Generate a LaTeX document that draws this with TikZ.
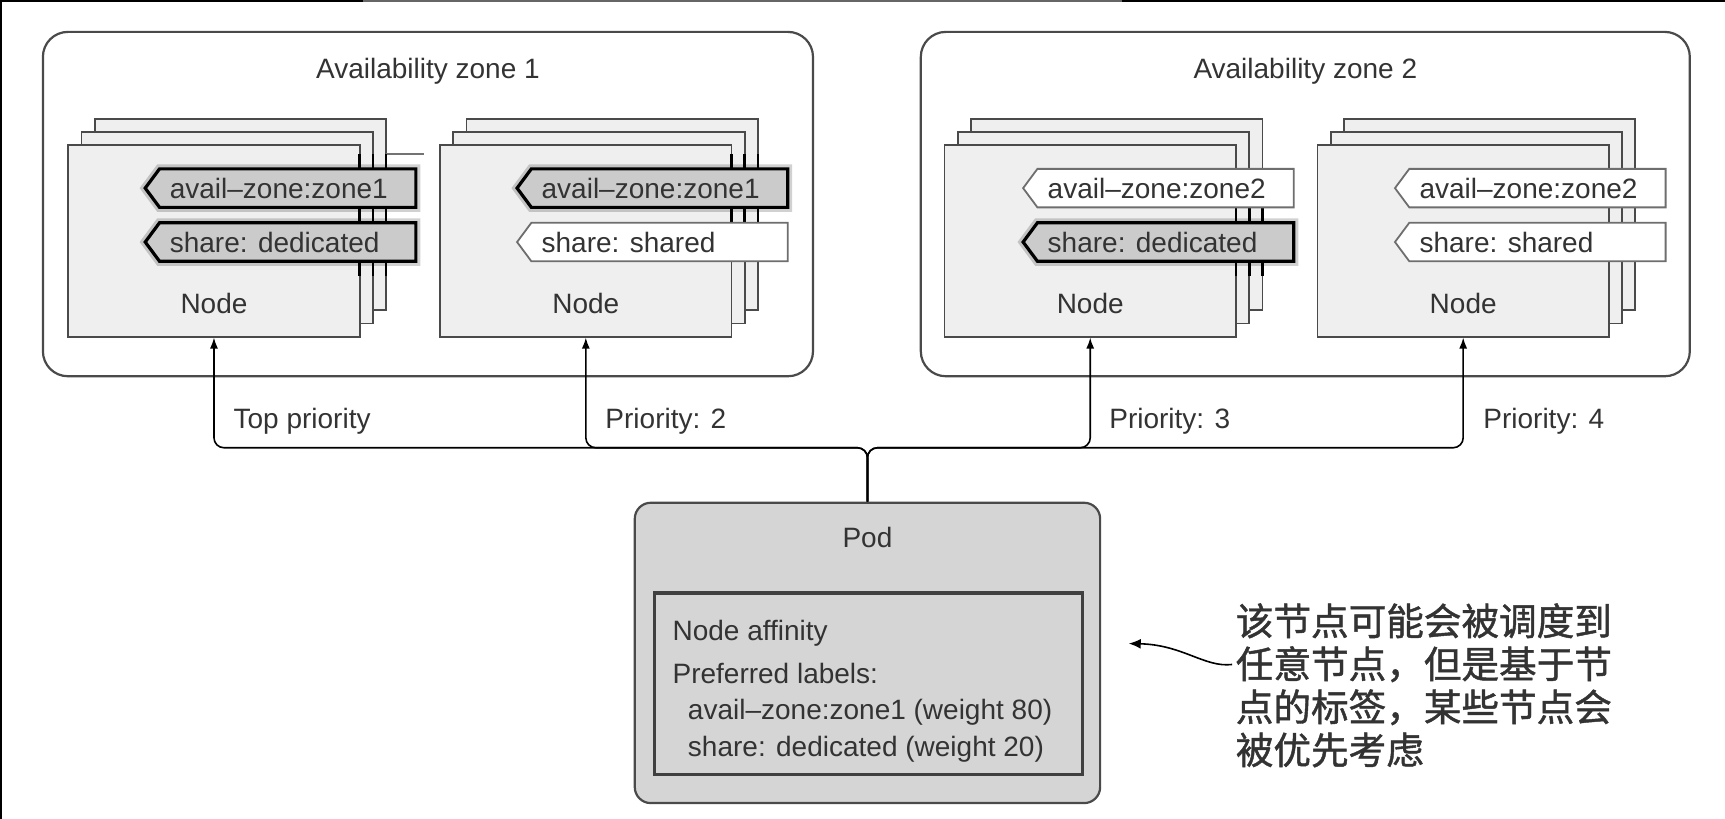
\documentclass[tikz,border=0pt]{standalone}
\usepackage{fontspec}
\setmainfont{Liberation Sans}
\newfontfamily\cjkfont[FakeBold=1.2]{Noto Sans CJK SC}
\usetikzlibrary{arrows.meta,calc}
\definecolor{edgegray}{HTML}{4A4A4A}
\definecolor{nodefill}{HTML}{EFEFEF}
\definecolor{hlfill}{HTML}{CBCBCB}
\definecolor{podfill}{HTML}{D5D5D5}
\definecolor{txtgray}{HTML}{333333}
\definecolor{plaingray}{HTML}{6E6E6E}
% #1 name, #2 cx, #3 cy
\newcommand\nodestack[3]{%
  \node[nodebox] (#1c) at (#2+24,#3-24) {};
  \node[nodebox] (#1b) at (#2+12,#3-12) {};
  \node[nodebox] (#1) at (#2,#3) {};
  \node[lbl] (#1t) at (#2,#3+57) {Node};
}
% #1 name, #2 left x, #3 centre y, #4 style, #5 text
\newcommand\tagbox[5]{%
  \draw[#4] (#2,#3) -- (#2+13,#3-17.5) -- (#2+246,#3-17.5) -- (#2+246,#3+17.5) -- (#2+13,#3+17.5) -- cycle;
  \node[lbl,anchor=west] (#1) at (#2+22,#3) {#5};
}
% #1 front cx, #2 top, #3 bottom
\newcommand\darkedges[3]{%
  \foreach \d in {132.5,144.5,156.5}{\draw[black,line width=1.3pt] (#1+\d,#2) -- (#1+\d,#3);}
}
\begin{document}
\begin{tikzpicture}[x=0.55pt,y=-0.55pt,
  every node/.style={text=txtgray, font=\fontsize{14pt}{16pt}\selectfont},
  lbl/.style={inner sep=0pt, text height=10pt, text depth=0pt},
  zone/.style={draw=edgegray, line width=1.1pt, rounded corners=12.5pt, fill=white},
  nodebox/.style={draw=edgegray, fill=nodefill, line width=0.9pt, minimum width=145.75pt, minimum height=95.7pt, inner sep=0pt},
  hltag/.style={fill=hlfill, draw=black, line width=1.6pt, preaction={draw=black, line width=4.5pt, opacity=0.18}},
  plaintag/.style={fill=white, draw=plaingray, line width=0.9pt},
  conn/.style={draw=black, line width=0.8pt, rounded corners=5pt, -{Latex[length=5.5pt,width=4pt]}},
  pod/.style={draw=edgegray, fill=podfill, line width=1.1pt, rounded corners=8pt, minimum width=232.65pt, minimum height=150.15pt, inner sep=0pt},
  affbox/.style={draw=black!75, fill=podfill, line width=1.6pt, minimum width=213.95pt, minimum height=90.75pt, inner sep=0pt},
]
\useasboundingbox (0,0) rectangle (1568,744);
\fill[white] (0,0) rectangle (1568,744);
\draw[black,line width=2pt] (0,744) -- (0,0) -- (1568,0);
\draw[black!60,line width=2pt] (330,0) -- (1020,0);

% zones
\draw[zone] (39,29) rectangle (739,342);
\draw[zone] (837,29) rectangle (1536,342);
\node[lbl] (z1) at (389,62) {Availability zone 1};
\node[lbl] (z2) at (1186.5,62) {Availability zone 2};

% node stacks
\nodestack{nA}{194.5}{219}
\nodestack{nB}{532.5}{219}
\nodestack{nC}{991}{219}
\nodestack{nD}{1330}{219}
\draw[black!55,line width=0.6pt] (351,140) -- (385,140);

% dark edges near highlighted tags
\darkedges{194.5}{140}{251}
\darkedges{532.5}{140}{202}
\darkedges{991}{189}{251}

% tags
\tagbox{tA1}{132}{171}{hltag}{avail–zone:zone1}
\tagbox{tA2}{132}{220}{hltag}{share: dedicated}
\tagbox{tB1}{470}{171}{hltag}{avail–zone:zone1}
\tagbox{tB2}{470}{220}{plaintag}{share: shared}
\tagbox{tC1}{930}{171}{plaintag}{avail–zone:zone2}
\tagbox{tC2}{930}{220}{hltag}{share: dedicated}
\tagbox{tD1}{1268}{171}{plaintag}{avail–zone:zone2}
\tagbox{tD2}{1268}{220}{plaintag}{share: shared}

% pod
\node[pod] (pod) at (788.5,593.5) {};
\node[lbl] (podt) at (788.5,489) {Pod};
\node[affbox] (aff) at (789.5,621.5) {};
\node[lbl,anchor=west] (a1) at (611,573) {Node affinity};
\node[lbl,anchor=west] (a2) at (611,612) {Preferred labels:};
\node[lbl,anchor=west] (a3) at (625,645) {avail–zone:zone1 (weight 80)};
\node[lbl,anchor=west] (a4) at (625,679) {share: dedicated (weight 20)};

% connectors
\draw[conn] (pod.north) -- ++(0,-49) -| (nA.south);
\draw[conn] (pod.north) -- ++(0,-49) -| (nB.south);
\draw[conn] (pod.north) -- ++(0,-49) -| (nC.south);
\draw[conn] (pod.north) -- ++(0,-49) -| (nD.south);
\node[lbl,anchor=west] (p1) at (212,380) {Top priority};
\node[lbl,anchor=west] (p2) at (550,380) {Priority: 2};
\node[lbl,anchor=west] (p3) at (1008,380) {Priority: 3};
\node[lbl,anchor=west] (p4) at (1348,380) {Priority: 4};

% note
\node[anchor=west, align=left, inner sep=0pt, font=\cjkfont\fontsize{18.8pt}{21.5pt}\selectfont] (note) at (1123,623)
  {该节点可能会被调度到\\任意节点，但是基于节\\点的标签，某些节点会\\被优先考虑};
\coordinate (ntail) at (1120,604);
\coordinate (ntip) at (1026,585);
\draw[black,line width=0.8pt,-{Latex[length=6pt,width=5pt]}] (ntail) .. controls (1095,607) and (1075,586) .. (ntip);
\end{tikzpicture}
\end{document}
